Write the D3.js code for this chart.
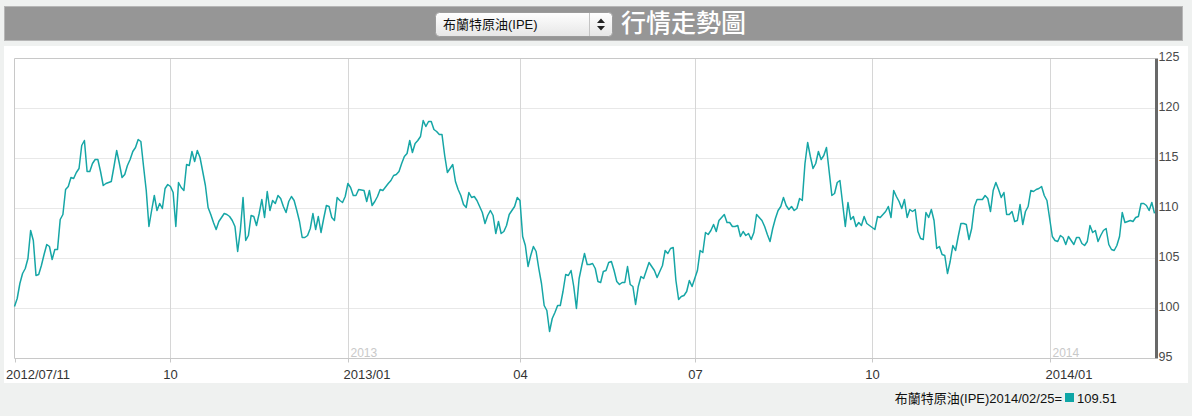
<!DOCTYPE html>
<html><head><meta charset="utf-8">
<script src="https://cdn.jsdelivr.net/npm/d3@7"></script>
<style>
html,body{margin:0;padding:0;background:#eff1f0;}
svg{display:block;}
</style></head><body>
<svg id="c" width="1192" height="416"></svg>
<script>
// ---------- data ----------
const seriesName = "布蘭特原油(IPE)";
const chartTitle = "行情走勢圖";
const startDate = "2012-07-11";
const endDate = "2014-02-25";
// one closing value per weekday from startDate to endDate (null = no quote read)
const values = [
100.2,101.0,102.5,103.5,104.0,105.0,107.8,106.8,103.3,103.4,
104.3,105.4,106.4,106.2,104.9,105.9,105.9,108.9,109.4,111.9,
112.2,113.1,113.0,113.6,114.0,116.3,116.8,113.7,113.7,114.5,
114.9,114.9,113.7,112.3,112.5,112.6,112.7,114.2,115.8,114.5,
113.1,113.4,114.3,114.9,115.7,116.1,116.9,116.7,114.2,111.8,
108.2,109.8,111.3,109.8,110.5,110.0,112.0,112.4,112.2,111.6,
108.2,112.6,112.1,111.8,114.4,114.3,115.7,114.7,115.8,115.1,
113.7,112.3,110.1,109.4,108.6,107.9,108.7,null,109.5,109.4,
109.2,108.8,108.2,105.7,107.8,111.1,106.8,107.3,109.3,109.2,
108.3,109.5,110.9,109.1,111.7,109.8,110.8,110.5,111.3,111.0,
110.2,109.6,110.7,111.2,110.8,109.8,108.7,107.1,107.1,107.3,
108.0,109.5,107.9,109.2,107.6,109.0,110.3,110.2,109.1,108.8,
111.1,110.8,110.6,111.2,112.5,112.1,111.3,111.3,111.9,null,
111.8,110.7,111.8,110.3,110.7,111.2,111.9,111.8,null,112.5,
112.8,113.3,113.4,113.7,114.5,115.2,115.5,116.8,115.6,116.5,
116.8,117.2,118.8,118.2,118.7,118.7,117.9,117.7,117.4,117.4,
115.3,113.6,114.0,114.4,112.7,111.9,111.3,110.4,110.1,111.6,
111.1,111.2,110.8,110.2,109.6,108.5,109.3,109.8,109.3,107.5,
108.7,107.5,107.7,108.3,109.4,109.8,110.2,111.1,110.8,107.2,
106.3,104.2,105.3,106.2,105.7,104.0,102.5,100.3,99.8,97.7,
99.0,99.6,100.3,100.3,101.7,103.4,103.3,103.8,102.2,100.0,
103.0,104.3,105.5,104.4,104.4,104.5,104.0,102.7,102.6,103.7,
103.8,104.6,104.7,103.8,102.7,102.4,102.6,102.6,104.2,102.4,
102.2,100.4,102.2,103.2,103.0,103.8,104.6,null,103.8,103.1,
103.7,104.3,105.8,105.5,106.0,106.1,102.8,100.9,101.2,101.3,
101.7,102.8,102.2,103.0,103.8,105.8,105.6,107.6,107.4,107.8,
108.4,107.7,108.8,109.1,109.4,108.6,108.6,108.2,108.2,108.3,
107.2,107.7,107.3,107.5,106.9,107.6,109.4,109.1,108.8,108.2,
107.4,106.7,108.0,109.0,109.8,110.2,111.1,110.3,109.9,110.2,
109.8,110.0,111.0,110.8,114.5,116.6,115.2,114.0,114.5,115.7,
114.9,115.3,116.1,113.7,111.3,111.5,112.6,112.8,110.5,108.2,
110.6,108.9,109.2,108.2,108.6,108.3,109.2,108.5,108.3,null,
107.9,109.2,109.1,109.4,109.7,110.2,109.1,111.8,111.2,110.7,
110.0,110.9,109.1,109.9,109.7,109.9,107.7,107.0,106.9,109.6,
109.1,109.9,108.8,106.0,106.2,105.4,105.3,103.5,104.7,106.3,
105.8,107.2,108.5,108.5,108.4,106.9,108.0,110.2,110.9,110.9,
110.9,111.3,111.0,109.7,111.8,112.6,111.9,111.1,111.6,109.4,
109.4,109.7,108.7,108.8,110.4,108.4,109.7,110.2,111.8,111.7,
111.9,112.0,112.2,111.3,110.8,109.0,107.2,106.8,106.7,107.3,
107.1,106.4,107.2,106.8,106.4,107.1,107.1,106.5,106.3,106.7,
108.3,107.6,107.8,106.7,107.3,107.8,108.0,106.4,105.9,105.8,
106.3,107.2,109.6,108.6,108.7,108.8,108.7,109.1,109.2,110.5,
110.5,110.3,109.8,110.6,109.51
];
const yTickValues = [95, 100, 105, 110, 115, 120, 125];
const xTickDates = ["2012-07-11","2012-10-01","2013-01-01","2013-04-01","2013-07-01","2013-10-01","2014-01-01"];
const xTickLabels = ["2012/07/11","10","2013/01","04","07","10","2014/01"];
const yearMarkDates = ["2013-01-01","2014-01-01"];
const yearMarkLabels = ["2013","2014"];
const lastLabel = "2014/02/25";
const lastValue = 109.51;

// ---------- setup ----------
const svg = d3.select("#c");
const latin = "'Liberation Sans', Arial, 'Noto Sans CJK TC', sans-serif";
const cjk = "'Liberation Sans', 'Noto Sans CJK TC', sans-serif";
const lineColor = "#16a6a6";

const parse = d3.timeParse("%Y-%m-%d");
const tradingDays = d3.timeDay.range(parse(startDate), d3.timeDay.offset(parse(endDate), 1))
  .filter(d => d.getDay() > 0 && d.getDay() < 6);
const idxOf = s => d3.bisectLeft(tradingDays, parse(s));
const n = Math.min(tradingDays.length, values.length);
const data = d3.range(n).map(i => ({i, date: tradingDays[i], v: values[i]})).filter(d => d.v != null);

const x = d3.scaleLinear().domain([0, tradingDays.length - 1]).range([14.5, 1154.5]);
const y = d3.scaleLinear().domain([95, 125]).range([358.5, 58.5]);

// ---------- header ----------
svg.append("rect").attr("x", 4.5).attr("y", 6.5).attr("width", 1178).attr("height", 34)
  .attr("fill", "#969696").attr("stroke", "#b6b6b6");
const defs = svg.append("defs");
const g1 = defs.append("linearGradient").attr("id", "selg").attr("x1", 0).attr("x2", 0).attr("y1", 0).attr("y2", 1);
g1.append("stop").attr("offset", "0%").attr("stop-color", "#ffffff");
g1.append("stop").attr("offset", "100%").attr("stop-color", "#e6e6e6");
svg.append("rect").attr("x", 435.5).attr("y", 12.5).attr("width", 177).attr("height", 24).attr("rx", 4)
  .attr("fill", "url(#selg)").attr("stroke", "#9c9c9c");
svg.append("line").attr("x1", 589.5).attr("x2", 589.5).attr("y1", 13).attr("y2", 36).attr("stroke", "#c4c4c4");
svg.append("text").attr("x", 443).attr("y", 29).attr("font-family", cjk).attr("font-size", 13)
  .attr("fill", "#111").text(seriesName);
svg.append("path").attr("d", "M597,23 L601,18.5 L605,23 Z M597,26 L601,30.5 L605,26 Z").attr("fill", "#222");
svg.append("text").attr("x", 621).attr("y", 32).attr("font-family", "'Noto Sans CJK TC', sans-serif")
  .attr("font-size", 25).attr("font-weight", 500).attr("fill", "#ffffff").text(chartTitle);

// ---------- panel ----------
svg.append("rect").attr("x", 4).attr("y", 46).attr("width", 1184).attr("height", 337).attr("fill", "#ffffff");

// horizontal grid
svg.append("g").selectAll("line").data(yTickValues.filter(v => v > 95 && v < 125)).join("line")
  .attr("x1", 14.5).attr("x2", 1155).attr("y1", d => y(d)).attr("y2", d => y(d))
  .attr("stroke", "#e8e8e8");

// vertical month grid
const tickIdx = xTickDates.map(idxOf);
svg.append("g").selectAll("line").data(tickIdx.slice(1)).join("line")
  .attr("x1", d => Math.round(x(d)) + 0.5).attr("x2", d => Math.round(x(d)) + 0.5)
  .attr("y1", 58.5).attr("y2", 358.5).attr("stroke", "#d6d6d6");

// frame
svg.append("line").attr("x1", 14.5).attr("x2", 1155).attr("y1", 58.5).attr("y2", 58.5).attr("stroke", "#c8c8c8");
svg.append("line").attr("x1", 14.5).attr("x2", 14.5).attr("y1", 58.5).attr("y2", 358.5).attr("stroke", "#c8c8c8");

// faint year marks
svg.append("g").selectAll("text").data(yearMarkDates).join("text")
  .attr("x", d => Math.round(x(idxOf(d))) + 2.5).attr("y", 356.5)
  .attr("font-family", latin).attr("font-size", 12).attr("fill", "#c9c9c9")
  .text((d, i) => yearMarkLabels[i]);

// x axis
const xAxis = d3.axisBottom(x).tickValues(tickIdx).tickSize(4).tickPadding(7)
  .tickFormat((d, i) => xTickLabels[i]);
const gx = svg.append("g").attr("transform", "translate(0,358.5)").call(xAxis);
gx.select(".domain").attr("stroke", "#c8c8c8").attr("d", "M14.5,0H1155");
gx.selectAll(".tick line").attr("stroke", "#c8c8c8");
gx.selectAll(".tick").attr("transform", d => `translate(${Math.round(x(d)) + 0.5},0)`);
gx.selectAll(".tick text").attr("font-family", latin).attr("font-size", 13).attr("fill", "#333")
  .attr("text-anchor", (d, i) => xTickLabels[i].includes("/") ? "start" : "middle")
  .attr("dx", (d, i) => i === 0 ? -9.5 : (xTickLabels[i].includes("/") ? -5 : 0));

// right axis bar and labels
svg.append("rect").attr("x", 1155).attr("y", 58.5).attr("width", 3).attr("height", 300).attr("fill", "#686868");
const yAxis = d3.axisRight(y).tickValues(yTickValues).tickSize(0).tickPadding(0);
const gy = svg.append("g").attr("transform", "translate(1158.5,0)").call(yAxis);
gy.select(".domain").remove();
gy.selectAll(".tick text").attr("font-family", latin).attr("font-size", 12.5).attr("fill", "#4a4a4a")
  .attr("dy", "0.12em");

// series line
const line = d3.line().x(d => x(d.i)).y(d => y(d.v));
svg.append("path").datum(data).attr("d", line).attr("fill", "none")
  .attr("stroke", lineColor).attr("stroke-width", 1.5).attr("stroke-linejoin", "round");

// footer
const fy = 402.5;
svg.append("text").attr("x", 1062).attr("y", fy).attr("text-anchor", "end")
  .attr("font-family", cjk).attr("font-size", 13).attr("fill", "#111")
  .text(seriesName + lastLabel + "=");
svg.append("rect").attr("x", 1065).attr("y", fy - 9.5).attr("width", 9).attr("height", 9).attr("fill", "#0ea6a6");
svg.append("text").attr("x", 1077).attr("y", fy).attr("font-family", latin).attr("font-size", 13)
  .attr("fill", "#111").text(d3.format(".2f")(lastValue));
</script>
</body></html>
